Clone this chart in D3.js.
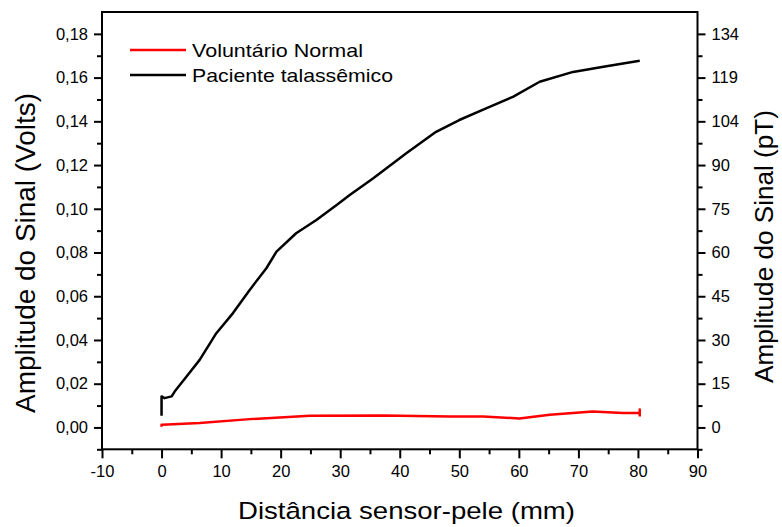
<!DOCTYPE html>
<html lang="pt">
<head>
    <meta charset="UTF-8" />
    <script src="https://d3js.org/d3.v7.min.js"></script>
    <title>Amplitude do Sinal x Distância</title>
    <style>
        body { margin: 0; background: #fff; }
        text { font-family: Arial, "Liberation Sans", sans-serif; fill: #000; }
    </style>
</head>
<body>
    <script>
        // dados
        var seriesNames = ["Voluntário Normal", "Paciente talassêmico"];
        var seriesColors = ["#ff0000", "#000000"];

        var normalX = [0, 0, 1, 6.4, 14.8, 24.9, 37.2, 48.4, 54, 60.1, 65.2, 72.4, 77.5, 80.3, 80.3, 80.3];
        var normalY = [0.0003, 0.0012, 0.0013, 0.0020, 0.0038, 0.0053, 0.0055, 0.0050, 0.0050, 0.0041, 0.0058, 0.0073, 0.0066, 0.0066, 0.0082, 0.0050];

        var pacienteX = [0, 0, 0.5, 1.7, 2.2, 4.3, 6.4, 9.2, 12.0, 14.8, 17.6, 19.3, 22.6, 26.0, 29.4, 31.6, 35.5, 41.1, 46.1, 50.0, 54.5, 59.0, 63.5, 69.1, 74.7, 80.3];
        var pacienteY = [0.0053, 0.0142, 0.0134, 0.0142, 0.0164, 0.0236, 0.0309, 0.0431, 0.0523, 0.0629, 0.0728, 0.0804, 0.0888, 0.0949, 0.1017, 0.1063, 0.1139, 0.1254, 0.1352, 0.1406, 0.1459, 0.1512, 0.1581, 0.1626, 0.1652, 0.1677];

        var xTicks = [-10, 0, 10, 20, 30, 40, 50, 60, 70, 80, 90];
        var yTicks = [0, 0.02, 0.04, 0.06, 0.08, 0.10, 0.12, 0.14, 0.16, 0.18];
        var pTLabels = ["0", "15", "30", "45", "60", "75", "90", "104", "119", "134"];

        var width = 782, height = 527;
        var margin = { left: 102, right: 84.5, top: 12, bottom: 77.7 };

        var svg = d3.select("body").append("svg")
            .attr("width", width)
            .attr("height", height);

        var x = d3.scaleLinear().domain([-10, 90]).range([margin.left, width - margin.right]);
        var y = d3.scaleLinear().domain([-0.01, 0.19]).range([height - margin.bottom, margin.top]);

        var fmt = d => d3.format(".2f")(d).replace(".", ",");

        // minor ticks
        var xMinor = d3.range(-5, 90, 10);
        var yMinor = d3.range(-0.01, 0.19, 0.02).map(d => +d.toFixed(2));

        function styleAxis(g) {
            g.select(".domain").remove();
            g.selectAll("line").attr("stroke", "#000").attr("stroke-width", 2);
            g.selectAll("text").style("font-size", "16.5px").attr("fill", "#000")
                .style("font-family", "Arial, 'Liberation Sans', sans-serif");
        }

        var bottomY = height - margin.bottom;
        svg.append("g").attr("transform", "translate(0," + bottomY + ")")
            .call(d3.axisBottom(x).tickValues(xTicks).tickSize(9).tickPadding(7).tickFormat(d => String(d)))
            .call(styleAxis);
        svg.append("g").attr("transform", "translate(0," + bottomY + ")")
            .call(d3.axisBottom(x).tickValues(xMinor).tickSize(5).tickFormat(""))
            .call(styleAxis);

        svg.append("g").attr("transform", "translate(" + margin.left + ",0)")
            .call(d3.axisLeft(y).tickValues(yTicks).tickSize(8).tickPadding(6).tickFormat(fmt))
            .call(styleAxis);
        svg.append("g").attr("transform", "translate(" + margin.left + ",0)")
            .call(d3.axisLeft(y).tickValues(yMinor).tickSize(5).tickFormat(""))
            .call(styleAxis);

        var rightX = width - margin.right;
        svg.append("g").attr("transform", "translate(" + rightX + ",0)")
            .call(d3.axisRight(y).tickValues(yTicks).tickSize(8).tickPadding(6).tickFormat((d, i) => pTLabels[i]))
            .call(styleAxis);
        svg.append("g").attr("transform", "translate(" + rightX + ",0)")
            .call(d3.axisRight(y).tickValues(yMinor).tickSize(5).tickFormat(""))
            .call(styleAxis);

        // moldura
        svg.append("rect")
            .attr("x", margin.left).attr("y", margin.top)
            .attr("width", rightX - margin.left).attr("height", bottomY - margin.top)
            .attr("fill", "none").attr("stroke", "#000").attr("stroke-width", 2);

        // curvas
        var line = d3.line().x(d => x(d[0])).y(d => y(d[1]));
        var seriesData = [
            d3.zip(normalX, normalY),
            d3.zip(pacienteX, pacienteY)
        ];
        svg.selectAll(".serie").data(seriesData).enter().append("path")
            .attr("class", "serie")
            .attr("d", line)
            .attr("fill", "none")
            .attr("stroke", (d, i) => seriesColors[i])
            .attr("stroke-width", 2.5)
            .attr("stroke-linejoin", "round");

        // legenda
        var legendWidths = [171, 201];
        var legend = svg.append("g").attr("transform", "translate(130,50)")
            .selectAll("g").data(seriesNames).enter().append("g")
            .attr("transform", (d, i) => "translate(0," + (i * 25) + ")");
        legend.append("line").attr("x1", 0).attr("x2", 56).attr("y1", 0).attr("y2", 0)
            .attr("stroke", (d, i) => seriesColors[i]).attr("stroke-width", 2.5);
        legend.append("text").attr("x", 62).attr("y", 6.7)
            .style("font-size", "19px")
            .attr("textLength", (d, i) => legendWidths[i])
            .attr("lengthAdjust", "spacingAndGlyphs")
            .text(d => d);

        // titulos dos eixos
        svg.append("text")
            .attr("x", 406.5).attr("y", 519)
            .attr("text-anchor", "middle").style("font-size", "24.5px")
            .attr("textLength", 337).attr("lengthAdjust", "spacingAndGlyphs")
            .text("Distância sensor-pele (mm)");

        svg.append("text")
            .attr("transform", "translate(35,253) rotate(-90)")
            .attr("text-anchor", "middle").style("font-size", "27px")
            .attr("textLength", 320).attr("lengthAdjust", "spacingAndGlyphs")
            .text("Amplitude do Sinal (Volts)");

        svg.append("text")
            .attr("transform", "translate(773,246.5) rotate(-90)")
            .attr("text-anchor", "middle").style("font-size", "26.5px")
            .attr("textLength", 273).attr("lengthAdjust", "spacingAndGlyphs")
            .text("Amplitude do Sinal (pT)");
    </script>
</body>
</html>
